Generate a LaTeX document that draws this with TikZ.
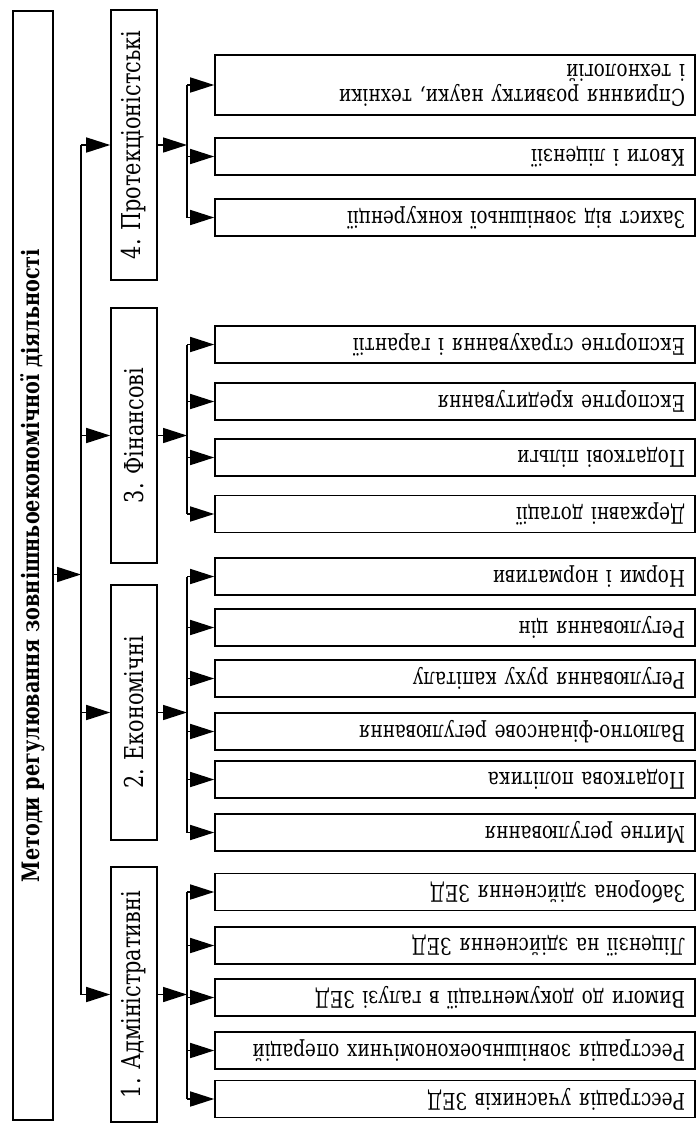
\documentclass[tikz,border=0pt]{standalone}
\usepackage{fontspec}
\setmainfont{DejaVu Serif}[FakeStretch=0.8]
\usetikzlibrary{arrows.meta}
\begin{document}
\begin{tikzpicture}[x=1pt,y=-1pt,
  box/.style={draw, line width=1.6pt, inner sep=0pt},
  catbox/.style={box, rotate=90, minimum width=255pt, minimum height=46pt, font=\fontsize{26}{28}\selectfont},
  leaf/.style={box, rotate=180, minimum width=480pt, minimum height=37pt, text width=460pt, align=left, font=\fontsize{23}{25}\selectfont},
  arr/.style={line width=1.6pt, -{Triangle[length=24pt,width=15pt]}},
  ln/.style={line width=1.6pt}]
\useasboundingbox (0,0) rectangle (697,1125);
% main
\node[box, rotate=90, minimum width=1109pt, minimum height=40pt, font=\bfseries\fontsize{24}{28}\selectfont] (main) at (33,565.5) {Методи регулювання зовнішньоекономічної діяльності};
% categories
\node[catbox, minimum width=270pt] (c4) at (134,145) {4. Протекціоністські};
\node[catbox] (c3) at (134,435.5) {3. Фінансові};
\node[catbox] (c2) at (134,712.5) {2. Економічні};
\node[catbox] (c1) at (134,994.5) {1. Адміністративні};
% leaves
\node[leaf, minimum height=60pt] (l41) at (455,85) {Сприяння розвитку науки, техніки\\і технологій};
\node[leaf] (l42) at (455,156.5) {Квоти і ліцензії};
\node[leaf] (l43) at (455,217.5) {Захист від зовнішньої конкуренції};
\node[leaf] (l31) at (455,344.5) {Експортне страхування і гарантії};
\node[leaf] (l32) at (455,401.5) {Експортне кредитування};
\node[leaf] (l33) at (455,457.5) {Податкові пільги};
\node[leaf] (l34) at (455,514) {Державні дотації};
\node[leaf] (l21) at (455,576.5) {Норми і нормативи};
\node[leaf] (l22) at (455,627.5) {Регулювання цін};
\node[leaf] (l23) at (455,678.5) {Регулювання руху капіталу};
\node[leaf] (l24) at (455,731.5) {Валютно-фінансове регулювання};
\node[leaf] (l25) at (455,779.5) {Податкова політика};
\node[leaf] (l26) at (455,832.5) {Митне регулювання};
\node[leaf] (l11) at (455,892) {Заборона здійснення ЗЕД};
\node[leaf] (l12) at (455,945.5) {Ліцензії на здійснення ЗЕД};
\node[leaf] (l13) at (455,997.5) {Вимоги до документації в галузі ЗЕД};
\node[leaf] (l14) at (455,1050.5) {Реєстрація зовнішньоекономічних операцій};
\node[leaf] (l15) at (455,1099) {Реєстрація учасників ЗЕД};
% spine
\coordinate (S) at (81,0);
\coordinate (T) at (187,0);
\coordinate (mo) at ([yshift=-9pt]main.south);
\draw[ln] (S |- c4.north) -- (S |- c1.north);
\draw[arr] (mo) -- (S |- mo);
\foreach \c in {c1,c2,c3,c4}{
  \draw[arr] (S |- \c.north) -- (\c.north);
  \draw[arr] (\c.south) -- (T |- \c.south);
}
% sub-spines
\draw[ln] (T |- l41.east) -- (T |- l43.east);
\draw[ln] (T |- l31.east) -- (T |- l34.east);
\draw[ln] (T |- l21.east) -- (T |- l26.east);
\draw[ln] (T |- l11.east) -- (T |- l15.east);
\foreach \l in {l41,l42,l43,l31,l32,l33,l34,l21,l22,l23,l24,l25,l26,l11,l12,l13,l14,l15}{
  \draw[arr] (T |- \l.east) -- (\l.east);
}
\end{tikzpicture}
\end{document}
